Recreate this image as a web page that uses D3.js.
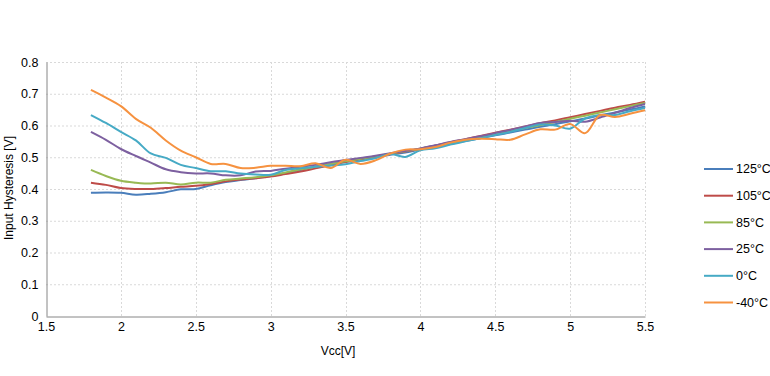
<!DOCTYPE html>
<html lang="en">
<head>
    <meta charset="UTF-8">
    <title>Input Hysteresis vs Vcc</title>
    <style>
        body { margin: 0; background: #fff; }
        svg text { font-family: "Liberation Sans", Arial, sans-serif; fill: #000; }
        .grid line { stroke: #d9d9d9; stroke-dasharray: 2,2; }
        .series { fill: none; stroke-width: 2; }
    </style>
</head>
<body>
    <svg id="chart" width="770" height="376"></svg>

    <script src="https://cdnjs.cloudflare.com/ajax/libs/d3/7.8.5/d3.min.js"></script>
    <script>
        // Data
        const vcc = [1.8, 1.9, 2.0, 2.1, 2.2, 2.3, 2.4, 2.5, 2.6, 2.7, 2.8, 2.9, 3.0, 3.1, 3.2, 3.3, 3.4, 3.5, 3.6,
                     3.7, 3.8, 3.9, 4.0, 4.1, 4.2, 4.3, 4.4, 4.5, 4.6, 4.7, 4.8, 4.9, 5.0, 5.1, 5.2, 5.3, 5.4, 5.5];

        const t125 = [0.388, 0.389, 0.388, 0.382, 0.385, 0.390, 0.399, 0.400, 0.412, 0.422, 0.428, 0.434, 0.441,
                      0.450, 0.460, 0.470, 0.478, 0.486, 0.494, 0.500, 0.508, 0.515, 0.524, 0.533, 0.542, 0.551,
                      0.560, 0.569, 0.578, 0.587, 0.596, 0.604, 0.613, 0.622, 0.632, 0.641, 0.650, 0.660];
        const t105 = [0.420, 0.413, 0.403, 0.400, 0.400, 0.403, 0.407, 0.410, 0.416, 0.424, 0.430, 0.434, 0.439,
                      0.447, 0.455, 0.465, 0.475, 0.485, 0.494, 0.502, 0.510, 0.518, 0.527, 0.537, 0.547, 0.557,
                      0.567, 0.577, 0.587, 0.597, 0.607, 0.616, 0.626, 0.636, 0.646, 0.656, 0.665, 0.675];
        const t85 = [0.460, 0.441, 0.426, 0.420, 0.417, 0.420, 0.414, 0.420, 0.420, 0.429, 0.433, 0.437, 0.443,
                     0.452, 0.462, 0.470, 0.479, 0.487, 0.495, 0.503, 0.511, 0.519, 0.527, 0.536, 0.545, 0.554,
                     0.563, 0.573, 0.583, 0.592, 0.601, 0.611, 0.621, 0.631, 0.641, 0.651, 0.661, 0.671];
        const t25 = [0.580, 0.555, 0.526, 0.504, 0.483, 0.462, 0.453, 0.449, 0.449, 0.443, 0.443, 0.455, 0.457,
                     0.464, 0.470, 0.476, 0.484, 0.491, 0.498, 0.505, 0.513, 0.520, 0.528, 0.538, 0.548, 0.557,
                     0.566, 0.576, 0.586, 0.597, 0.608, 0.611, 0.615, 0.612, 0.625, 0.640, 0.655, 0.668];
        const t0 = [0.633, 0.608, 0.580, 0.553, 0.512, 0.498, 0.476, 0.466, 0.456, 0.456, 0.449, 0.446, 0.445,
                    0.460, 0.465, 0.470, 0.474, 0.478, 0.488, 0.497, 0.510, 0.501, 0.522, 0.528, 0.540, 0.550,
                    0.560, 0.570, 0.580, 0.592, 0.603, 0.600, 0.590, 0.622, 0.633, 0.633, 0.645, 0.655];
        const tm40 = [0.712, 0.688, 0.661, 0.621, 0.593, 0.553, 0.521, 0.500, 0.479, 0.479, 0.466, 0.467, 0.473,
                      0.473, 0.472, 0.481, 0.466, 0.492, 0.479, 0.490, 0.512, 0.524, 0.525, 0.532, 0.546, 0.555,
                      0.558, 0.557, 0.555, 0.572, 0.588, 0.587, 0.605, 0.576, 0.633, 0.627, 0.637, 0.648];

        const seriesNames = ["125°C", "105°C", "85°C", "25°C", "0°C", "-40°C"];
        const seriesValues = [t125, t105, t85, t25, t0, tm40];
        const colors = ["#4a7ebb", "#be4b48", "#98b954", "#7d60a0", "#46aac5", "#f69240"];

        const xTicks = [1.5, 2, 2.5, 3, 3.5, 4, 4.5, 5, 5.5];
        const yTicks = [0, 0.1, 0.2, 0.3, 0.4, 0.5, 0.6, 0.7, 0.8];

        const svg = d3.select("#chart");
        const plot = { left: 46, right: 645, top: 62, bottom: 316 };

        const x = d3.scaleLinear().domain([1.5, 5.5]).range([plot.left, plot.right]);
        const y = d3.scaleLinear().domain([0, 0.8]).range([plot.bottom, plot.top]);

        // gridlines
        const grid = svg.append("g").attr("class", "grid");
        grid.selectAll(".h").data(yTicks.slice(1)).enter().append("line")
            .attr("x1", plot.left).attr("x2", plot.right)
            .attr("y1", d => y(d) + 0.5).attr("y2", d => y(d) + 0.5);
        grid.selectAll(".v").data(xTicks.slice(1)).enter().append("line")
            .attr("y1", plot.top).attr("y2", plot.bottom)
            .attr("x1", d => Math.round(x(d)) + 0.5).attr("x2", d => Math.round(x(d)) + 0.5);

        // axes
        const xAxis = svg.append("g")
            .attr("transform", `translate(0,${plot.bottom + 0.5})`)
            .call(d3.axisBottom(x).tickValues(xTicks).tickSize(0).tickPadding(6).tickFormat(d3.format("")));
        const yAxis = svg.append("g")
            .attr("transform", `translate(${plot.left + 0.5},0)`)
            .call(d3.axisLeft(y).tickValues(yTicks).tickSize(0).tickPadding(8).tickFormat(d3.format("")));
        [xAxis, yAxis].forEach(a => {
            a.select(".domain").attr("stroke", "#868686");
            a.selectAll("text").style("font-size", "12.5px").attr("fill", "#000");
        });

        // series
        const line = d3.line()
            .x((d, i) => x(vcc[i]))
            .y(d => y(d))
            .curve(d3.curveCatmullRom.alpha(0.5));

        svg.selectAll(".series").data(seriesValues).enter().append("path")
            .attr("class", "series")
            .attr("stroke", (d, i) => colors[i])
            .attr("d", line);

        // axis titles
        svg.append("text")
            .attr("x", 338).attr("y", 355)
            .attr("text-anchor", "middle")
            .style("font-size", "12px")
            .text("Vcc[V]");
        svg.append("text")
            .attr("transform", "translate(13,188) rotate(-90)")
            .attr("text-anchor", "middle")
            .style("font-size", "12px")
            .text("Input Hysteresis [V]");

        // legend
        const legend = svg.append("g");
        const rows = legend.selectAll("g").data(seriesNames).enter().append("g")
            .attr("transform", (d, i) => `translate(704,${169 + i * 26.7})`);
        rows.append("line")
            .attr("x1", 0).attr("x2", 29)
            .attr("stroke", (d, i) => colors[i])
            .attr("stroke-width", 2);
        rows.append("text")
            .attr("x", 32).attr("dy", "0.35em")
            .style("font-size", "12.5px")
            .text(d => d);
    </script>
</body>
</html>
